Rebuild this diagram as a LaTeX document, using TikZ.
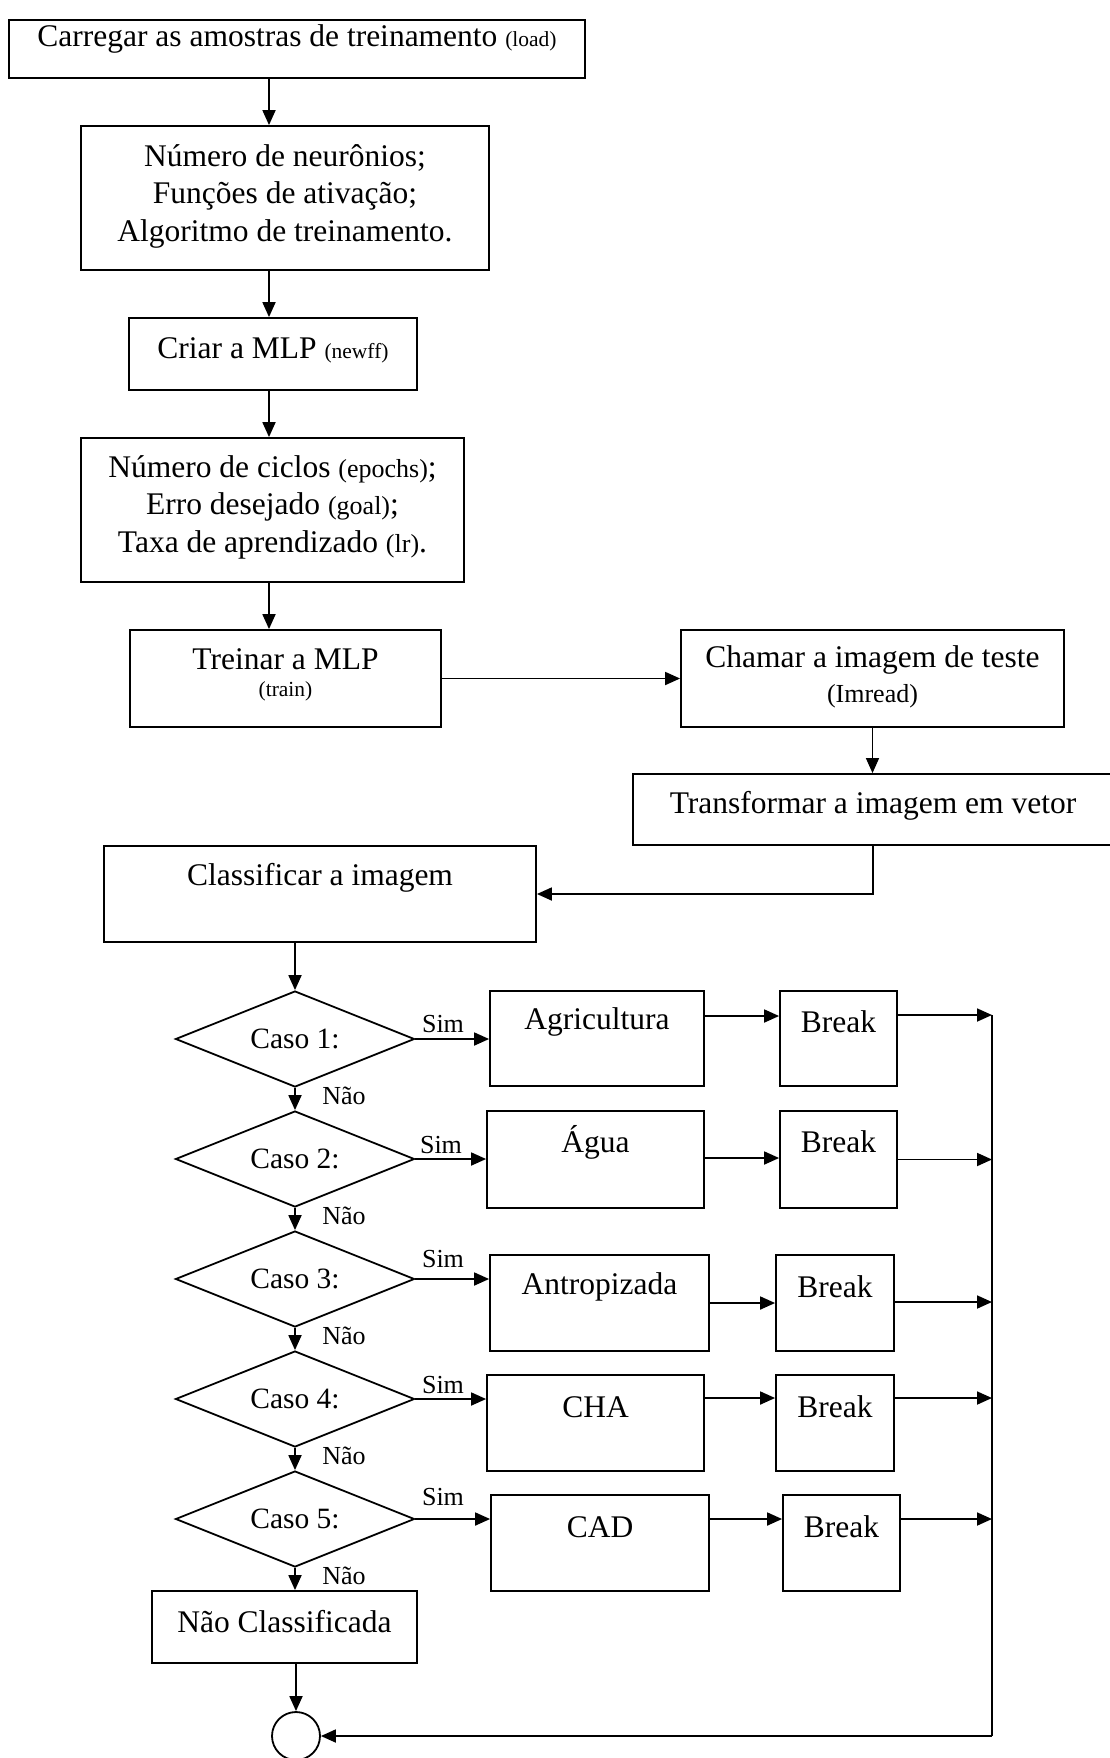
\documentclass[tikz,border=0pt]{standalone}
\usepackage{fontspec}
\setmainfont{Liberation Serif}
\usetikzlibrary{arrows.meta,shapes.geometric}
\newcommand{\mainsz}{\fontsize{31.5}{37.5}\selectfont}
\newcommand{\smsz}{\fontsize{21.5}{25}\selectfont}
\newcommand{\midsz}{\fontsize{26}{30}\selectfont}
\newcommand{\casosz}{\fontsize{29.5}{34}\selectfont}
\tikzset{
  box/.style={draw, line width=1.8pt, rectangle, inner sep=0pt},
  dia/.style={draw, line width=1.8pt, diamond, shape aspect=2.5, inner sep=0pt, minimum width=239pt, minimum height=96pt, font=\casosz},
  txt/.style={inner sep=0pt, align=center, font=\mainsz},
  lbl/.style={inner sep=0pt, font=\midsz},
  arr/.style={-{Triangle[length=15pt,width=13pt]}, line width=1.8pt},
  ln/.style={line width=1.8pt}
}
\begin{document}
\begin{tikzpicture}[x=1pt,y=-1pt]
\useasboundingbox (0,0) rectangle (1110,1758);
% top column
\node[box, minimum width=576pt, minimum height=58pt] (b1) at (297,49) {};
\node[txt] (t1) at (297,39) {Carregar as amostras de treinamento {\smsz (load)}};
\node[box, minimum width=408pt, minimum height=144pt] (b2) at (285,198) {};
\node[txt] (t2) at (285,196) {Número de neurônios;\\Funções de ativação;\\Algoritmo de treinamento.};
\node[box, minimum width=288pt, minimum height=72pt] (b3) at (273,354) {};
\node[txt] (t3) at (273,350) {Criar a MLP {\smsz (newff)}};
\node[box, minimum width=383pt, minimum height=144pt] (b4) at (272.5,510) {};
\node[txt] (t4) at (272.5,507) {Número de ciclos {\midsz (epochs)};\\Erro desejado {\midsz (goal)};\\Taxa de aprendizado {\midsz (lr)}.};
\node[box, minimum width=311pt, minimum height=97pt] (b5) at (285.5,678.5) {};
\node[txt] (t5a) at (285.5,659) {Treinar a MLP};
\node[txt, font=\smsz] (t5b) at (285.5,691) {(train)};
\node[box, minimum width=383pt, minimum height=97pt] (b6) at (872.5,678.5) {};
\node[txt] (t6a) at (872.5,660) {Chamar a imagem de teste};
\node[txt, font=\midsz] (t6b) at (872.5,696) {(Imread)};
\node[box, minimum width=482pt, minimum height=71pt] (b7) at (874,809.5) {};
\node[txt] (t7) at (873,806) {Transformar a imagem em vetor};
\node[box, minimum width=432pt, minimum height=96pt] (b8) at (320,894) {};
\node[txt] (t8) at (320,878) {Classificar a imagem};
% arrows top
\draw[arr] ([xshift=-28pt]b1.south) -- ([xshift=-28pt]b1.south |- b2.north);
\draw[arr] ([xshift=-16pt]b2.south) -- ([xshift=-16pt]b2.south |- b3.north);
\draw[arr] ([xshift=-4pt]b3.south) -- ([xshift=-4pt]b3.south |- b4.north);
\draw[arr] ([xshift=-3.5pt]b4.south) -- ([xshift=-3.5pt]b4.south |- b5.north);
\draw[arr] (b5.east) -- (b6.west);
\draw[arr, line width=1.4pt] (b6.south) -- (b6.south |- b7.north);
\draw[arr] ([xshift=-1pt]b7.south) -- ([xshift=-1pt]b7.south |- b8.east) -- (b8.east);
% diamonds
\node[dia] (d1) at (295,1039) {Caso 1:};
\node[dia] (d2) at (295,1159) {Caso 2:};
\node[dia] (d3) at (295,1279) {Caso 3:};
\node[dia] (d4) at (295,1399) {Caso 4:};
\node[dia] (d5) at (295,1519) {Caso 5:};
\draw[arr] (d1.north |- b8.south) -- (d1.north);
\draw[arr] (d1.south) -- (d2.north);
\draw[arr] (d2.south) -- (d3.north);
\draw[arr] (d3.south) -- (d4.north);
\draw[arr] (d4.south) -- (d5.north);
% Nao labels
\node[lbl] (n1) at (344,1096) {Não};
\node[lbl] (n2) at (344,1216) {Não};
\node[lbl] (n3) at (344,1336) {Não};
\node[lbl] (n4) at (344,1456) {Não};
\node[lbl] (n5) at (344,1576) {Não};
% Sim labels
\node[lbl] (s1) at (443,1024) {Sim};
\node[lbl] (s2) at (441,1145) {Sim};
\node[lbl] (s3) at (443,1259) {Sim};
\node[lbl] (s4) at (443,1385) {Sim};
\node[lbl] (s5) at (443,1497) {Sim};
% class boxes
\node[box, minimum width=214pt, minimum height=95pt] (c1) at (597,1038.5) {};
\node[txt] (tc1) at (597,1022) {Agricultura};
\node[box, minimum width=217pt, minimum height=97pt] (c2) at (595.5,1159.5) {};
\node[txt] (tc2) at (595.5,1142) {Água};
\node[box, minimum width=219pt, minimum height=96pt] (c3) at (599.5,1303) {};
\node[txt] (tc3) at (599.5,1287) {Antropizada};
\node[box, minimum width=217pt, minimum height=96pt] (c4) at (595.5,1423) {};
\node[txt] (tc4) at (595.5,1407) {CHA};
\node[box, minimum width=218pt, minimum height=96pt] (c5) at (600,1543) {};
\node[txt] (tc5) at (600,1527) {CAD};
% break boxes
\node[box, minimum width=117pt, minimum height=95pt] (k1) at (838.5,1038.5) {};
\node[txt] (tk1) at (838.5,1022) {Break};
\node[box, minimum width=117pt, minimum height=97pt] (k2) at (838.5,1159.5) {};
\node[txt] (tk2) at (838.5,1142) {Break};
\node[box, minimum width=118pt, minimum height=96pt] (k3) at (835,1303) {};
\node[txt] (tk3) at (835,1287) {Break};
\node[box, minimum width=118pt, minimum height=96pt] (k4) at (835,1423) {};
\node[txt] (tk4) at (835,1407) {Break};
\node[box, minimum width=117pt, minimum height=96pt] (k5) at (841.5,1543) {};
\node[txt] (tk5) at (841.5,1527) {Break};
% Sim arrows
\draw[arr] (d1.east) -- (d1.east -| c1.west);
\draw[arr] (d2.east) -- (d2.east -| c2.west);
\draw[arr] (d3.east) -- (d3.east -| c3.west);
\draw[arr] (d4.east) -- (d4.east -| c4.west);
\draw[arr] (d5.east) -- (d5.east -| c5.west);
% class -> break
\draw[arr] ([yshift=22.5pt]c1.east) -- ([yshift=22.5pt]c1.east -| k1.west);
\draw[arr] ([yshift=1.5pt]c2.east) -- ([yshift=1.5pt]c2.east -| k2.west);
\draw[arr] (c3.east) -- (k3.west);
\draw[arr] ([yshift=25pt]c4.east) -- ([yshift=25pt]c4.east -| k4.west);
\draw[arr] ([yshift=24pt]c5.east) -- ([yshift=24pt]c5.east -| k5.west);
% collector line
\coordinate (vtop) at (992,1015);
\coordinate (vbot) at (992,1736);
\draw[arr] ([yshift=23.5pt]k1.east) -- ([yshift=23.5pt]k1.east -| vtop);
\draw[arr] (k2.east) -- (k2.east -| vtop);
\draw[arr] ([yshift=1pt]k3.east) -- ([yshift=1pt]k3.east -| vtop);
\draw[arr] ([yshift=25pt]k4.east) -- ([yshift=25pt]k4.east -| vtop);
\draw[arr] ([yshift=24pt]k5.east) -- ([yshift=24pt]k5.east -| vtop);
% not classified and end
\node[box, minimum width=265pt, minimum height=72pt] (nc) at (284.5,1627) {};
\node[txt] (tnc) at (284.5,1622) {Não Classificada};
\draw[arr] (d5.south) -- (d5.south |- nc.north);
\node[draw, circle, line width=1.8pt, minimum size=48pt, inner sep=0pt] (fim) at (296,1736) {};
\draw[arr] (fim.north |- nc.south) -- (fim.north);
\draw[ln] (vtop) -- (vbot);
\draw[arr] (vbot) -- (fim.east);
\end{tikzpicture}
\end{document}
